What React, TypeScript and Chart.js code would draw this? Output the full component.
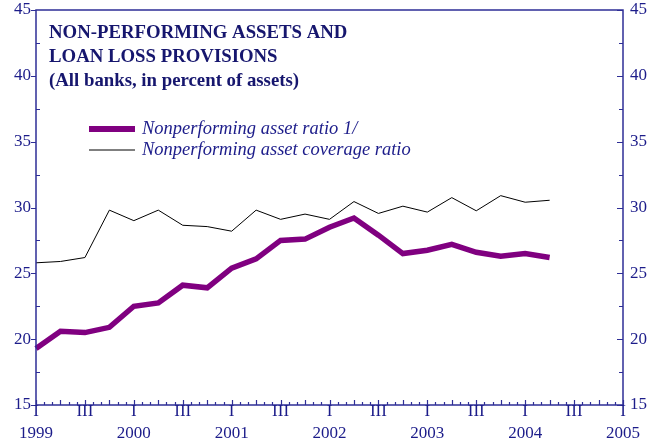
import React, { useEffect, useRef } from "react";
import { Chart, registerables } from "chart.js";

Chart.register(...registerables);

const quarters = [
  "1999 I", "1999 II", "1999 III", "1999 IV",
  "2000 I", "2000 II", "2000 III", "2000 IV",
  "2001 I", "2001 II", "2001 III", "2001 IV",
  "2002 I", "2002 II", "2002 III", "2002 IV",
  "2003 I", "2003 II", "2003 III", "2003 IV",
  "2004 I", "2004 II", "2004 III", "2004 IV",
  "2005 I",
];
const years = ["1999", "2000", "2001", "2002", "2003", "2004", "2005"];
const quarterMarks = ["I", "", "III", ""];

const nplRatio = [
  19.3, 20.6, 20.5, 20.9, 22.5, 22.75, 24.1, 23.9, 25.4, 26.1, 27.5,
  27.6, 28.5, 29.2, 27.9, 26.5, 26.75, 27.2, 26.6, 26.3, 26.5, 26.2,
];
const coverageRatio = [
  25.8, 25.9, 26.2, 29.8, 29.0, 29.8, 28.65, 28.55, 28.2, 29.8, 29.1,
  29.5, 29.1, 30.45, 29.55, 30.1, 29.65, 30.75, 29.75, 30.9, 30.4, 30.55,
];
const yTicks = [15, 20, 25, 30, 35, 40, 45];
const yMinorTicks = [17.5, 22.5, 27.5, 32.5, 37.5, 42.5];

const titleLines = [
  "NON-PERFORMING ASSETS AND",
  "LOAN LOSS PROVISIONS",
  "(All banks, in percent of assets)",
];
const seriesLabels = [
  "Nonperforming asset ratio 1/",
  "Nonperforming asset coverage ratio",
];

const NAVY_AXIS = "#2e2e96";
const NAVY_TEXT = "#1c1c8a";
const NAVY_TITLE = "#16166e";
const PURPLE = "#800080";
const SERIF = '"Liberation Serif", "Times New Roman", serif';

const framePlugin = {
  id: "framePlugin",
  afterDraw(chart: any) {
    const { ctx, chartArea: a, scales } = chart;
    const xs = scales.x;
    const ys = scales.y;
    ctx.save();

    // frame
    ctx.strokeStyle = NAVY_AXIS;
    ctx.lineWidth = 1.5;
    ctx.strokeRect(a.left, a.top, a.right - a.left, a.bottom - a.top);

    // y ticks
    ctx.lineWidth = 1.2;
    ctx.beginPath();
    yTicks.forEach((v) => {
      const py = Math.round(ys.getPixelForValue(v)) + 0.5;
      ctx.moveTo(a.left - 5, py);
      ctx.lineTo(a.left, py);
      ctx.moveTo(a.right - 6, py);
      ctx.lineTo(a.right, py);
    });
    yMinorTicks.forEach((v) => {
      const py = Math.round(ys.getPixelForValue(v)) + 0.5;
      ctx.moveTo(a.left, py);
      ctx.lineTo(a.left + 4, py);
      ctx.moveTo(a.right - 4, py);
      ctx.lineTo(a.right, py);
    });
    // x ticks: monthly, quarters a bit taller
    const nQ = quarters.length - 1;
    for (let m = 0; m <= nQ * 3; m++) {
      const px = Math.round(xs.getPixelForValue(m / 3)) + 0.5;
      const len = m % 3 === 0 ? 5 : 3;
      ctx.moveTo(px, a.bottom);
      ctx.lineTo(px, a.bottom - len);
    }
    ctx.stroke();

    // y labels
    ctx.fillStyle = NAVY_TEXT;
    ctx.font = `17px ${SERIF}`;
    ctx.textBaseline = "middle";
    yTicks.forEach((v) => {
      const py = ys.getPixelForValue(v);
      ctx.textAlign = "right";
      ctx.fillText(String(v), a.left - 5, py);
      ctx.textAlign = "left";
      ctx.fillText(String(v), a.right + 7, py);
    });

    // x labels
    ctx.textAlign = "center";
    quarters.forEach((q, i) => {
      const mark = quarterMarks[i % 4];
      if (!mark) return;
      const px = xs.getPixelForValue(i);
      ctx.fillText(mark, px, a.bottom + 7);
      if (i % 4 === 0) {
        ctx.fillText(years[i / 4], px, a.bottom + 29);
      }
    });

    // title
    ctx.fillStyle = NAVY_TITLE;
    ctx.font = `bold 18.8px ${SERIF}`;
    ctx.textAlign = "left";
    titleLines.forEach((t, i) => {
      ctx.fillText(t, a.left + 13, a.top + 23 + i * 24);
    });

    // legend
    const ds = chart.data.datasets;
    ctx.font = `italic 18.5px ${SERIF}`;
    ds.forEach((d: any, i: number) => {
      const ly = a.top + 119 + i * 21;
      ctx.strokeStyle = d.borderColor;
      ctx.lineWidth = i === 0 ? 6 : d.borderWidth;
      ctx.beginPath();
      ctx.moveTo(a.left + 53, ly);
      ctx.lineTo(a.left + 99, ly);
      ctx.stroke();
      ctx.fillStyle = NAVY_TEXT;
      ctx.fillText(d.label, a.left + 106, ly);
    });

    ctx.restore();
  },
};

export default function App() {
  const canvasRef = useRef<HTMLCanvasElement | null>(null);

  useEffect(() => {
    document.body.style.margin = "0";
    const canvas = canvasRef.current;
    if (!canvas) return;
    const chart = new Chart(canvas, {
      type: "line",
      data: {
        labels: quarters,
        datasets: [
          {
            label: seriesLabels[0],
            data: nplRatio,
            borderColor: PURPLE,
            borderWidth: 5.5,
            pointRadius: 0,
            tension: 0,
            fill: false,
          },
          {
            label: seriesLabels[1],
            data: coverageRatio,
            borderColor: "#000000",
            borderWidth: 1,
            pointRadius: 0,
            tension: 0,
            fill: false,
          },
        ],
      },
      options: {
        responsive: false,
        maintainAspectRatio: false,
        animation: false,
        devicePixelRatio: 1,
        layout: { padding: { left: 36, right: 42, top: 10, bottom: 41 } },
        scales: {
          x: { type: "category", display: false, offset: false },
          y: { type: "linear", display: false, min: 15, max: 45 },
        },
        plugins: {
          legend: { display: false },
          tooltip: { enabled: false },
          title: { display: false },
        },
      },
      plugins: [framePlugin],
    });
    return () => chart.destroy();
  }, []);

  return (
    <div style={{ position: "absolute", left: 0, top: 0, width: 665, height: 446, background: "#fff" }}>
      <canvas ref={canvasRef} width={665} height={446} />
    </div>
  );
}
